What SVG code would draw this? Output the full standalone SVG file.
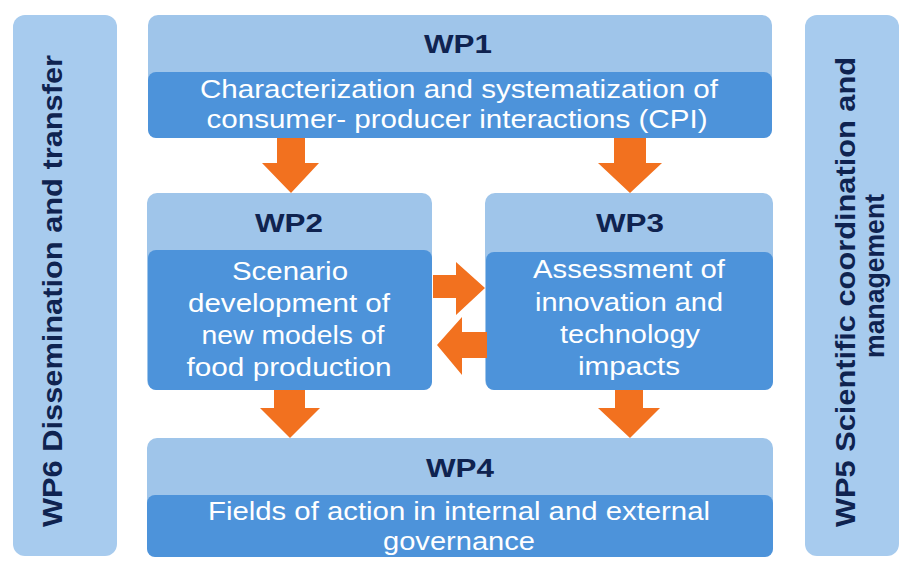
<svg xmlns="http://www.w3.org/2000/svg" width="902" height="562" viewBox="0 0 902 562">
<style>
.bar{fill:#a7cbee}
.outer{fill:#9fc5ea}
.inner{fill:#4d93da}
.title{font-family:"Liberation Sans",Arial,sans-serif;font-weight:bold;font-size:26px;fill:#0f2350;text-anchor:middle}
.side{font-family:"Liberation Sans",Arial,sans-serif;font-weight:bold;font-size:28px;fill:#0f2350;text-anchor:middle}
.body{font-family:"Liberation Sans",Arial,sans-serif;font-size:25px;fill:#ffffff;text-anchor:middle}
.arrow{fill:#f2711f}
</style>
<rect width="902" height="562" fill="#ffffff"/>
<g id="wp6">
<rect class="bar" x="13" y="15" width="104" height="541" rx="12"/>
<text class="side" transform="translate(62,291) rotate(-90)" textLength="472" lengthAdjust="spacingAndGlyphs">WP6 Dissemination and transfer</text>
</g>
<g id="wp5">
<rect class="bar" x="805" y="15" width="94" height="541" rx="12"/>
<text class="side" transform="translate(855,292) rotate(-90)" textLength="470" lengthAdjust="spacingAndGlyphs">WP5 Scientific coordination and</text>
<text class="side" transform="translate(884,276) rotate(-90)" textLength="164" lengthAdjust="spacingAndGlyphs">management</text>
</g>
<g id="wp1">
<rect class="outer" x="148" y="15" width="624" height="123" rx="10"/>
<rect class="inner" x="148" y="72" width="624" height="66" rx="8"/>
<text class="title" x="458" y="53" textLength="68" lengthAdjust="spacingAndGlyphs">WP1</text>
<text class="body" x="459" y="98" textLength="518" lengthAdjust="spacingAndGlyphs">Characterization and systematization of</text>
<text class="body" x="457" y="128" textLength="501" lengthAdjust="spacingAndGlyphs">consumer- producer interactions (CPI)</text>
</g>
<g id="wp2">
<rect class="outer" x="147" y="193" width="285" height="197" rx="10"/>
<rect class="inner" x="148" y="250" width="284" height="140" rx="8"/>
<text class="title" x="289" y="232" textLength="68" lengthAdjust="spacingAndGlyphs">WP2</text>
<text class="body" x="290" y="280" textLength="116" lengthAdjust="spacingAndGlyphs">Scenario</text>
<text class="body" x="289" y="312" textLength="202" lengthAdjust="spacingAndGlyphs">development of</text>
<text class="body" x="293" y="344" textLength="183" lengthAdjust="spacingAndGlyphs">new models of</text>
<text class="body" x="289" y="376" textLength="205" lengthAdjust="spacingAndGlyphs">food production</text>
</g>
<g id="wp3">
<rect class="outer" x="485" y="193" width="288" height="197" rx="10"/>
<rect class="inner" x="486" y="252" width="287" height="138" rx="8"/>
<text class="title" x="630" y="232" textLength="68" lengthAdjust="spacingAndGlyphs">WP3</text>
<text class="body" x="629" y="278" textLength="192" lengthAdjust="spacingAndGlyphs">Assessment of</text>
<text class="body" x="629" y="311" textLength="188" lengthAdjust="spacingAndGlyphs">innovation and</text>
<text class="body" x="630" y="343" textLength="140" lengthAdjust="spacingAndGlyphs">technology</text>
<text class="body" x="629" y="375" textLength="102" lengthAdjust="spacingAndGlyphs">impacts</text>
</g>
<g id="wp4">
<rect class="outer" x="147" y="438" width="626" height="119" rx="10"/>
<rect class="inner" x="147" y="495" width="626" height="62" rx="8"/>
<text class="title" x="460" y="477" textLength="68" lengthAdjust="spacingAndGlyphs">WP4</text>
<text class="body" x="459" y="520" textLength="502" lengthAdjust="spacingAndGlyphs">Fields of action in internal and external</text>
<text class="body" x="459" y="550" textLength="152" lengthAdjust="spacingAndGlyphs">governance</text>
</g>
<g id="connectors">
<polygon class="arrow" points="277,138 305,138 305,163 319,163 291,193 262,163 277,163"/>
<polygon class="arrow" points="614,138 646,138 646,163 662,163 630,193 598,163 614,163"/>
<polygon class="arrow" points="274,390 305,390 305,408 320,408 290,438 260,408 274,408"/>
<polygon class="arrow" points="615,390 643,390 643,408 660,408 630,438 598,408 615,408"/>
<polygon class="arrow" points="433,275 456,275 456,262 485,288 456,315 456,298 433,298"/>
<polygon class="arrow" points="487,332 462,332 462,317 437,345 462,375 462,358 487,358"/>
</g>
</svg>
